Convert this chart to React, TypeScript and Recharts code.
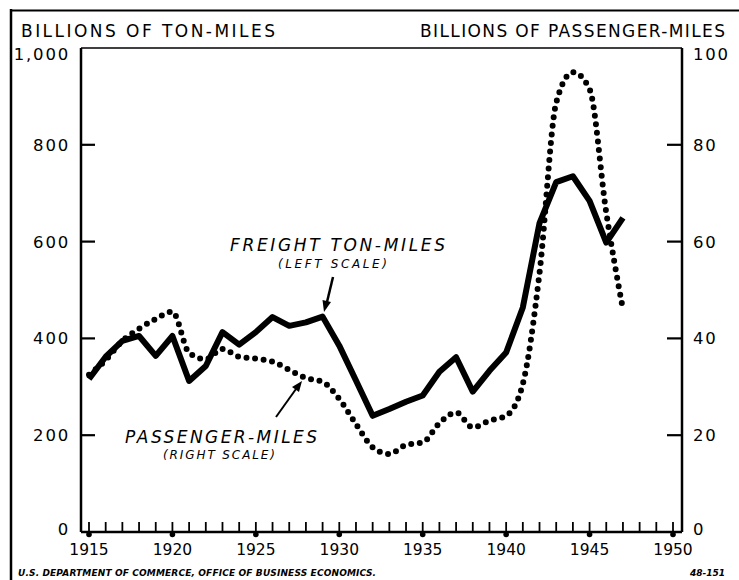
import { Line, LineChart, ReferenceLine, XAxis, YAxis } from "recharts";

const years = [
  1915, 1916, 1917, 1918, 1919, 1920, 1921, 1922, 1923, 1924, 1925,
  1926, 1927, 1928, 1929, 1930, 1931, 1932, 1933, 1934, 1935, 1936,
  1937, 1938, 1939, 1940, 1941, 1942, 1943, 1944, 1945, 1946, 1947,
];
// billions of ton-miles (left scale)
const freightTonMiles = [
  316, 362, 395, 405, 364, 405, 312, 343, 413, 387, 413,
  444, 426, 433, 445, 385, 313, 240, 254, 269, 282, 331,
  361, 290, 333, 371, 464, 638, 723, 735, 684, 598, 649,
];
// billions of passenger-miles (right scale)
const passengerMiles = [
  32.5, 35.5, 39.5, 42, 44, 45.5, 37, 35.7, 37.8, 36.2, 35.8,
  35.2, 33.5, 31.8, 31, 27.5, 22.3, 17.5, 16.1, 18, 18.5, 22.5,
  24.7, 21.6, 23, 24, 30.6, 53.5, 88.7, 95, 91.5, 66, 46,
];
const yearTicks = [
  1915, 1916, 1917, 1918, 1919, 1920, 1921, 1922, 1923, 1924, 1925, 1926,
  1927, 1928, 1929, 1930, 1931, 1932, 1933, 1934, 1935, 1936, 1937, 1938,
  1939, 1940, 1941, 1942, 1943, 1944, 1945, 1946, 1947, 1948, 1949, 1950,
];
const majorYears = [1915, 1920, 1925, 1930, 1935, 1940, 1945, 1950];
const leftTicks = [0, 200, 400, 600, 800, 1000];
const rightTicks = [0, 20, 40, 60, 80, 100];

const rows = years.map((year, i) => ({
  year,
  freight: freightTonMiles[i],
  passenger: passengerMiles[i],
}));

const FONT = "'DejaVu Sans', sans-serif";

// plot box in page pixels (chart sits at 0,0)
const PLOT_L = 81;
const PLOT_R = 682;
const PLOT_T = 48;
const PLOT_B = 532;
const PX_PER_YEAR = (PLOT_R - PLOT_L - 8 - 9) / 35;
const LEFT_EDGE = 1915 - 8 / PX_PER_YEAR;
const RIGHT_EDGE = 1950 + 9 / PX_PER_YEAR;
const yPx = (frac: number) => PLOT_B - frac * (PLOT_B - PLOT_T);
const xPx = (yr: number) => PLOT_L + (yr - LEFT_EDGE) * PX_PER_YEAR;

function LeftTick(props: any) {
  const { x, y, payload } = props;
  const v = payload.value;
  const dy = v === 1000 ? 6 : v === 0 ? -3 : 0;
  return (
    <text x={x - 11} y={y + dy} dy="0.36em" textAnchor="end" fontFamily={FONT} fontSize={16.5} letterSpacing={1.8} fill="#000">
      {v === 1000 ? "1,000" : v}
    </text>
  );
}

function RightTick(props: any) {
  const { x, y, payload } = props;
  const v = payload.value;
  const dy = v === 100 ? 6 : v === 0 ? -3 : 0;
  return (
    <text x={x + 11} y={y + dy} dy="0.36em" textAnchor="start" fontFamily={FONT} fontSize={16.5} letterSpacing={1.8} fill="#000">
      {v}
    </text>
  );
}

function YearTick(props: any) {
  const { x, y, payload } = props;
  const v = payload.value;
  if (v % 5 !== 0) return <g />;
  return (
    <text x={x} y={y + 27} dy="0.36em" textAnchor="middle" fontFamily={FONT} fontSize={15.5} fill="#000">
      {v}
    </text>
  );
}

function Overlay() {
  const t = { fontFamily: FONT, fill: "#000" } as const;
  return (
    <svg width={739} height={580} style={{ position: "absolute", left: 0, top: 0, pointerEvents: "none" }}>
      <line x1={11} x2={11} y1={9} y2={580} stroke="#000" strokeWidth={2.5} />
      <line x1={10} x2={739} y1={10.5} y2={10.5} stroke="#000" strokeWidth={2} />

      {leftTicks.slice(1, -1).map((v) => (
        <rect key={`l${v}`} x={PLOT_L} y={yPx(v / 1000) - 1.1} width={14} height={2.2} fill="#000" />
      ))}
      {rightTicks.slice(1, -1).map((v) => (
        <rect key={`r${v}`} x={PLOT_R - 15} y={yPx(v / 100) - 1.1} width={15} height={2.2} fill="#000" />
      ))}
      {majorYears.map((yr) => (
        <circle key={yr} cx={xPx(yr)} cy={PLOT_B + 2.5} r={2.8} fill="#000" />
      ))}

      <text x={21} y={37} fontSize={17} textLength={254} lengthAdjust="spacing" {...t}>BILLIONS OF TON-MILES</text>
      <text x={420} y={37} fontSize={17} textLength={305} lengthAdjust="spacing" {...t}>BILLIONS OF PASSENGER-MILES</text>

      <text x={230} y={251} fontSize={17} fontStyle="italic" textLength={215} lengthAdjust="spacing" {...t}>FREIGHT TON-MILES</text>
      <text x={278} y={268} fontSize={12} fontStyle="italic" textLength={109} lengthAdjust="spacing" {...t}>(LEFT SCALE)</text>
      <line x1={333} y1={277} x2={327} y2={302} stroke="#000" strokeWidth={2.5} />
      <polygon points="324,312 322.5,300 331,302" fill="#000" />

      <text x={125} y={443} fontSize={17} fontStyle="italic" textLength={192} lengthAdjust="spacing" {...t}>PASSENGER-MILES</text>
      <text x={163} y={459} fontSize={12} fontStyle="italic" textLength={112} lengthAdjust="spacing" {...t}>(RIGHT SCALE)</text>
      <line x1={276} y1={417} x2={296} y2={389} stroke="#000" strokeWidth={2} />
      <polygon points="302,381 292,387 299,392" fill="#000" />

      <text x={18} y={576} fontSize={9} fontWeight="bold" fontStyle="italic" textLength={358} lengthAdjust="spacing" {...t}>
        U.S. DEPARTMENT OF COMMERCE, OFFICE OF BUSINESS ECONOMICS.
      </text>
      <text x={690} y={576} fontSize={9} fontWeight="bold" fontStyle="italic" textLength={35} lengthAdjust="spacing" {...t}>48-151</text>
    </svg>
  );
}

export default function App() {
  return (
    <div style={{ position: "absolute", left: 0, top: 0, width: 739, height: 580, background: "#fff", overflow: "hidden" }}>
      <LineChart width={739} height={580} data={rows} margin={{ top: PLOT_T, right: 0, bottom: 0, left: 0 }}>
        <XAxis
          dataKey="year"
          type="number"
          domain={[LEFT_EDGE, RIGHT_EDGE]}
          allowDataOverflow
          ticks={yearTicks}
          interval={0}
          height={580 - PLOT_B}
          tickSize={-10}
          tickMargin={0}
          tickLine={{ stroke: "#000", strokeWidth: 1.8 }}
          axisLine={{ stroke: "#000", strokeWidth: 2.5 }}
          tick={<YearTick />}
        />
        <YAxis
          yAxisId="left"
          domain={[0, 1000]}
          ticks={leftTicks}
          interval={0}
          width={PLOT_L}
          tickSize={0}
          tickMargin={0}
          tickLine={false}
          axisLine={{ stroke: "#000", strokeWidth: 2.5 }}
          tick={<LeftTick />}
        />
        <YAxis
          yAxisId="right"
          orientation="right"
          domain={[0, 100]}
          ticks={rightTicks}
          interval={0}
          width={739 - PLOT_R}
          tickSize={0}
          tickMargin={0}
          tickLine={false}
          axisLine={{ stroke: "#000", strokeWidth: 2.5 }}
          tick={<RightTick />}
        />
        <ReferenceLine yAxisId="left" y={1000} stroke="#000" strokeWidth={1.5} />
        <Line
          yAxisId="right"
          dataKey="passenger"
          type="monotone"
          stroke="#000"
          strokeWidth={6}
          strokeDasharray="0 8.6"
          strokeLinecap="round"
          dot={false}
          isAnimationActive={false}
        />
        <Line
          yAxisId="left"
          dataKey="freight"
          type="linear"
          stroke="#000"
          strokeWidth={6}
          strokeLinejoin="round"
          dot={false}
          isAnimationActive={false}
        />
      </LineChart>
      <Overlay />
    </div>
  );
}
